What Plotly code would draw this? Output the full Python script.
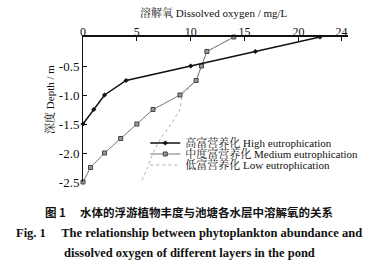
import plotly.graph_objects as go

depth_high = [0, -0.25, -0.5, -0.75, -1.0, -1.25, -1.5]
do_high = [22, 16, 10, 4, 2, 1, 0]

depth_med = [0, -0.25, -0.5, -0.75, -1.0, -1.25, -1.5, -1.75, -2.0, -2.25, -2.5]
do_med = [14, 11.5, 11, 10.5, 9, 6.5, 5, 3.5, 2, 0.7, 0]

depth_low = [0, -0.25, -0.5, -0.75, -1.0, -1.25, -1.5, -1.75, -2.0, -2.25, -2.5]
do_low = [14, 11.5, 11, 10.5, 9.2, 9.0, 8.2, 7.2, 6.5, 6.0, 5.4]

x_ticks = [0, 5, 10, 15, 20, 24]
y_ticks = [-0.5, -1.0, -1.5, -2.0, -2.5]
y_ticktext = ["-0.5", "-1.0", "-1.5", "-2.0", "-2.5"]

names = ["高富营养化 High eutrophication",
         "中度富营养化 Medium eutrophication",
         "低富营养化 Low eutrophication"]

FONT = "Liberation Serif, Noto Serif CJK SC, Noto Sans CJK SC, serif"

fig = go.Figure()
fig.add_trace(go.Scatter(
    x=do_low, y=depth_low, mode="lines", name=names[2], legend="legend3",
    line=dict(color="#b0b0b0", width=1, dash="dot"), cliponaxis=False))
fig.add_trace(go.Scatter(
    x=do_med, y=depth_med, mode="lines+markers", name=names[1], legend="legend2",
    line=dict(color="#777777", width=1),
    marker=dict(symbol="square", size=4, color="#999999", line=dict(color="#444444", width=1)),
    cliponaxis=False))
fig.add_trace(go.Scatter(
    x=do_high, y=depth_high, mode="lines+markers", name=names[0], legend="legend",
    line=dict(color="#111111", width=1.5),
    marker=dict(symbol="diamond", size=4, color="#111111"),
    cliponaxis=False))

def leg(ypx):
    return dict(x=0.235, y=(182 - ypx) / 145, xanchor="left", yanchor="middle",
                bgcolor="rgba(0,0,0,0)", font=dict(size=11, family=FONT),
                itemwidth=30)

fig.update_layout(
    width=380, height=273,
    margin=dict(l=83, r=32, t=37, b=91),
    paper_bgcolor="white", plot_bgcolor="white",
    font=dict(family=FONT, size=11, color="#111111"),
    showlegend=True,
    legend=leg(143), legend2=leg(154), legend3=leg(165),
    xaxis=dict(range=[0, 24.6], side="top", tickvals=x_ticks,
               showline=True, linecolor="#111111", linewidth=1.5,
               ticks="inside", ticklen=4, tickcolor="#111111",
               showgrid=False, zeroline=False, ticklabelstandoff=-6,
               tickfont=dict(size=12, family=FONT)),
    yaxis=dict(range=[-2.5, 0], tickvals=y_ticks, ticktext=y_ticktext,
               showline=True, linecolor="#111111", linewidth=1,
               ticks="inside", ticklen=4, tickcolor="#111111",
               showgrid=False, zeroline=False,
               tickfont=dict(size=13, family=FONT)),
)

fig.add_annotation(text="溶解氧 Dissolved oxygen / mg/L", xref="paper", yref="paper",
                   x=0.494, y=1.0, yanchor="middle", yshift=25, showarrow=False,
                   font=dict(size=11, family=FONT))
fig.add_annotation(text="深度 Depth / m", xref="paper", yref="paper",
                   x=0, xanchor="center", xshift=-33, y=0.566, yanchor="middle",
                   textangle=-90, showarrow=False,
                   font=dict(size=11, family=FONT))
fig.add_annotation(text="<b>图 1　 水体的浮游植物丰度与池塘各水层中溶解氧的关系</b>",
                   xref="paper", yref="paper", x=0.4, y=0, yanchor="middle", yshift=-30,
                   showarrow=False, font=dict(size=11.5, family="Noto Sans CJK SC"))
fig.add_annotation(text="<b>Fig. 1　 The relationship between phytoplankton abundance and</b>",
                   xref="paper", yref="paper", x=0.4, y=0, yanchor="middle", yshift=-51,
                   showarrow=False, font=dict(size=12.5, family=FONT))
fig.add_annotation(text="<b>dissolved oxygen of different layers in the pond</b>",
                   xref="paper", yref="paper", x=0.4, y=0, yanchor="middle", yshift=-71,
                   showarrow=False, font=dict(size=12.5, family=FONT))

fig.write_html("out.html")
